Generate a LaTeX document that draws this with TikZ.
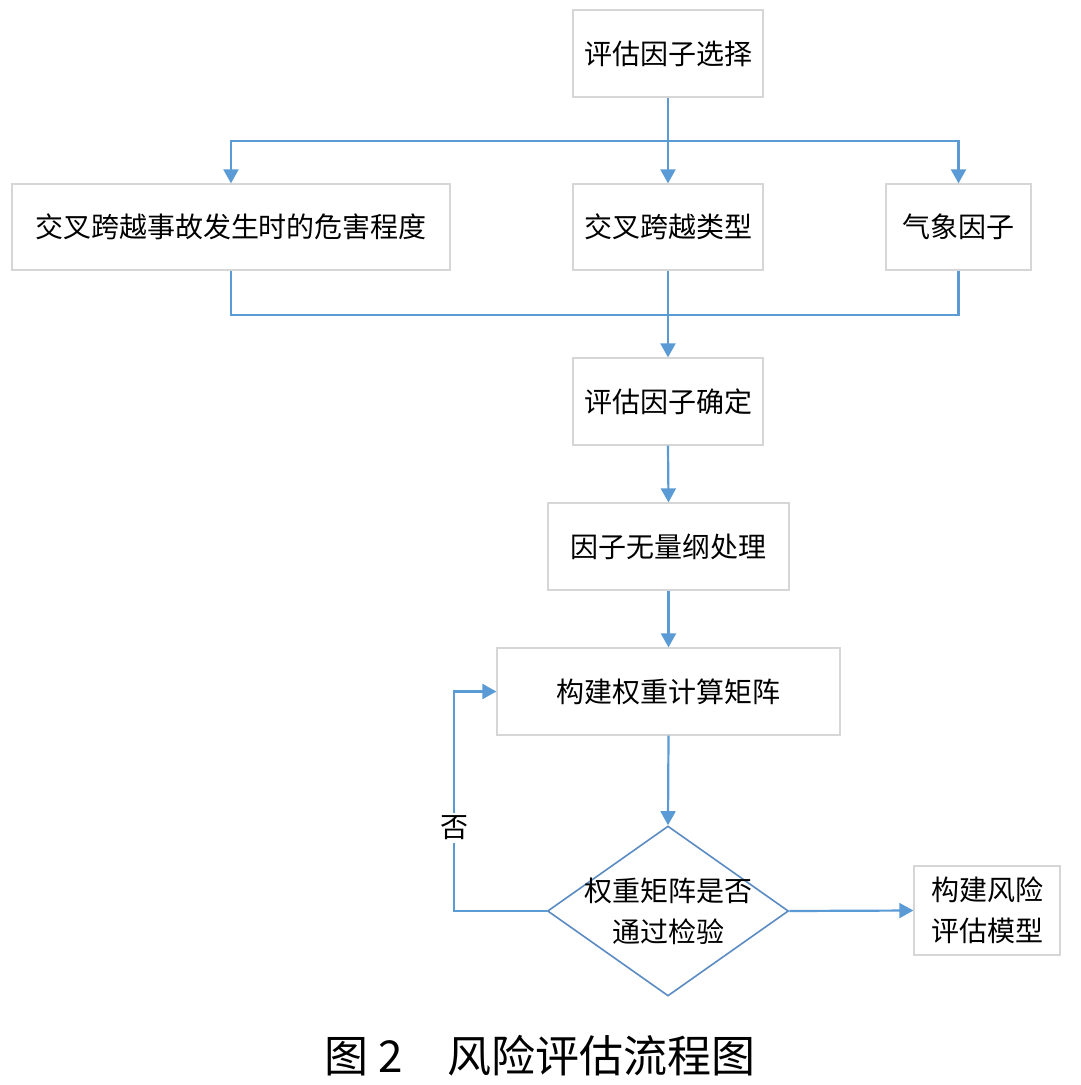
\documentclass[tikz,border=0pt]{standalone}
\usepackage{fontspec}
\setmainfont{Noto Sans CJK SC}
\usetikzlibrary{arrows.meta,shapes.geometric}
\definecolor{conncol}{HTML}{5B9BD5}
\definecolor{boxcol}{HTML}{D6D6D6}
\definecolor{diacol}{HTML}{5A8BC2}
\tikzset{
  box/.style={draw=boxcol, line width=1.3pt, fill=white, inner sep=0pt, align=center,
     font=\fontsize{28}{41}\selectfont},
  wire/.style={draw=conncol, line width=2.2pt},
  conn/.style={wire, -{Triangle[width=15pt,length=14pt]}},
}
\begin{document}
\begin{tikzpicture}[x=1pt,y=-1pt]
\useasboundingbox (0,0) rectangle (1080,1085);
\fill[white] (0,0) rectangle (1080,1085);

\node[box, minimum width=190pt, minimum height=87pt] (top) at (668,53.5) {评估因子选择};
\node[box, minimum width=438pt, minimum height=86pt] (left) at (231,227) {交叉跨越事故发生时的危害程度};
\node[box, minimum width=190pt, minimum height=86pt] (mid) at (668,227) {交叉跨越类型};
\node[box, minimum width=145pt, minimum height=86pt] (right) at (958.5,227) {气象因子};
\node[box, minimum width=190pt, minimum height=87pt] (confirm) at (668,401.5) {评估因子确定};
\node[box, minimum width=241pt, minimum height=87pt] (dimless) at (668.5,546.5) {因子无量纲处理};
\node[box, minimum width=343pt, minimum height=87pt] (matrix) at (668.5,691.5) {构建权重计算矩阵};
\node[draw=diacol, line width=1.6pt, fill=white, shape=diamond, inner sep=0pt,
      minimum width=241pt, minimum height=170pt] (dia) at (668,911) {};
\node[align=center, inner sep=0pt, font=\fontsize{28}{41}\selectfont] (diatext) at (668,911) {权重矩阵是否\\通过检验};
\node[box, minimum width=146pt, minimum height=89pt] (final) at (987,910.5) {构建风险\\评估模型};

\coordinate (br) at (668,141);
\coordinate (mg) at (668,315);
\coordinate (lp) at (454,911);

\draw[wire] (top.south) -- (br);
\draw[conn] (br) -| (left.north);
\draw[conn] (br) -| (right.north);
\draw[conn] (br) -- (mid.north);

\draw[wire] (left.south) |- (mg);
\draw[wire] (right.south) |- (mg);
\draw[conn] (mid.south) -- (confirm.north);

\draw[conn] (confirm.south) -- (dimless.north);
\draw[conn] (dimless.south) -- (matrix.north);
\draw[conn] (matrix.south) -- (dia.north);
\draw[conn] (dia.west) -- (lp) |- (matrix.west);
\draw[conn] (dia.east) -- (final.west);

\node[fill=white, inner sep=3pt, font=\fontsize{28}{34}\selectfont] (no) at (454,828) {否};

\node[font=\fontsize{44}{50}\selectfont] (cap) at (540,1056) {图 2\hspace{1em}风险评估流程图};
\end{tikzpicture}
\end{document}
